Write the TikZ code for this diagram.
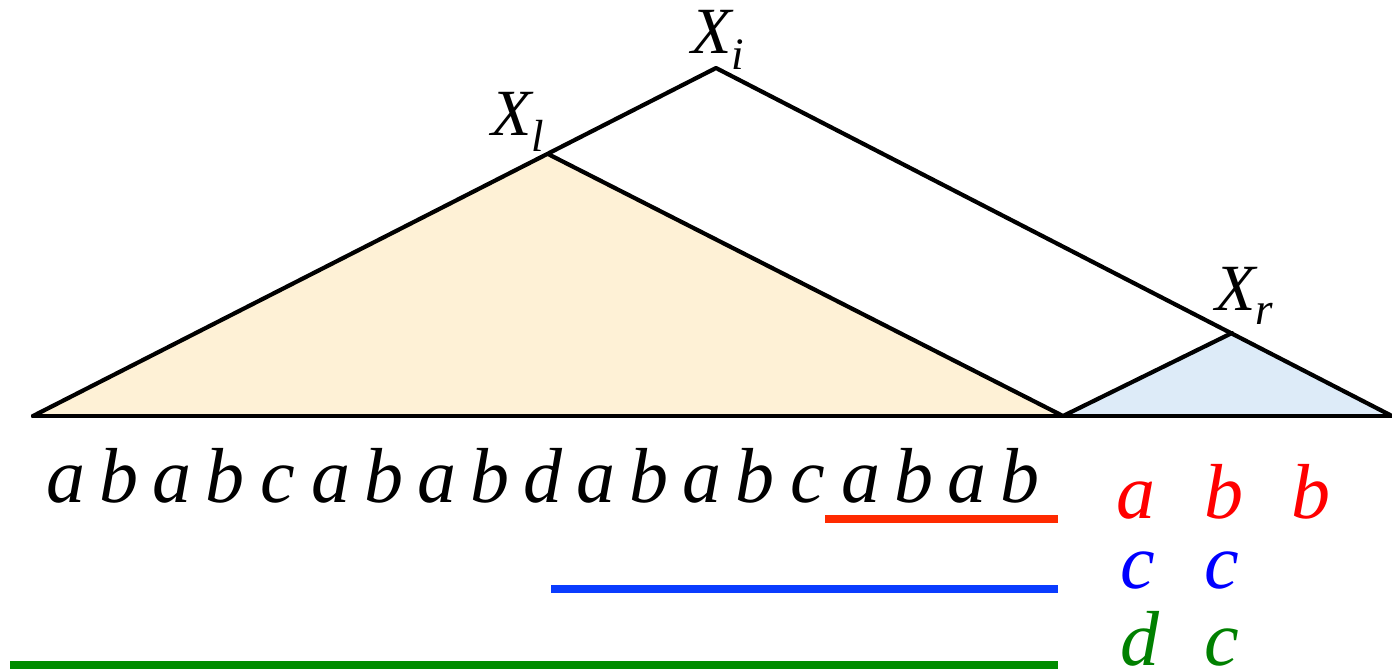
\documentclass[tikz,border=0pt]{standalone}
\usepackage{fontspec}
\setmainfont{Liberation Serif}
\definecolor{cream}{HTML}{FEF1D6}
\definecolor{lightblue}{HTML}{DDEBF8}
\definecolor{redline}{HTML}{FF2A00}
\definecolor{blueline}{HTML}{0A3CFF}
\definecolor{greenline}{HTML}{008C00}
\definecolor{redtext}{HTML}{FF0000}
\definecolor{bluetext}{HTML}{0000FF}
\definecolor{greentext}{HTML}{008000}
\begin{document}
\begin{tikzpicture}[x=1pt,y=-1pt,
  edge/.style={line width=4.2pt, line join=round, line cap=round},
  letter/.style={inner sep=0pt, anchor=base, font=\itshape\fontsize{78}{78}\selectfont},
  xlabel/.style={inner sep=0pt, anchor=base west, font=\itshape\fontsize{66}{66}\selectfont},
  bar/.style={line width=8pt}]
\useasboundingbox (0,0) rectangle (1392,670);
% vertices
\coordinate (L) at (33,416);
\coordinate (M) at (1063,416);
\coordinate (R) at (1392,416);
\coordinate (Xi) at (716,68);
\coordinate (Xl) at (548,154);
\coordinate (Xr) at (1232,333);
% fills
\fill[cream] (L) -- (Xl) -- (M) -- cycle;
\fill[lightblue] (M) -- (Xr) -- (R) -- cycle;
% outlines
\draw[edge] (L) -- (Xi) -- (R);
\draw[edge] (L) -- (R);
\draw[edge] (Xl) -- (M) -- (Xr);
% labels
\node[xlabel] (lXi) at (691,53) {X\raisebox{-16pt}{\fontsize{45}{45}\selectfont i}};
\node[xlabel] (lXl) at (491,135) {X\raisebox{-16pt}{\fontsize{45}{45}\selectfont l}};
\node[xlabel] (lXr) at (1215,310) {X\raisebox{-14pt}{\fontsize{45}{45}\selectfont r}};
% string
\foreach \c [count=\k from 0] in {a,b,a,b,c,a,b,a,b,d,a,b,a,b,c,a,b,a,b}{
  \node[letter] (s\k) at (66+53*\k,502) {\c};
}
% bars
\coordinate (ra) at (825,519); \coordinate (rb) at (1058,519);
\coordinate (ba) at (551,589); \coordinate (bb) at (1058,589);
\coordinate (ga) at (10,665);  \coordinate (gb) at (1058,665);
\draw[bar, redline] (ra) -- (rb);
\draw[bar, blueline] (ba) -- (bb);
\draw[bar, greenline] (ga) -- (gb);
% right column
\node[letter, text=redtext] (r1) at (1136,518) {a};
\node[letter, text=redtext] (r2) at (1224,518) {b};
\node[letter, text=redtext] (r3) at (1311,518) {b};
\node[letter, text=bluetext] (b1) at (1138,588) {c};
\node[letter, text=bluetext] (b2) at (1222,588) {c};
\node[letter, text=greentext] (g1) at (1140,665) {d};
\node[letter, text=greentext] (g2) at (1222,665) {c};
\end{tikzpicture}
\end{document}
